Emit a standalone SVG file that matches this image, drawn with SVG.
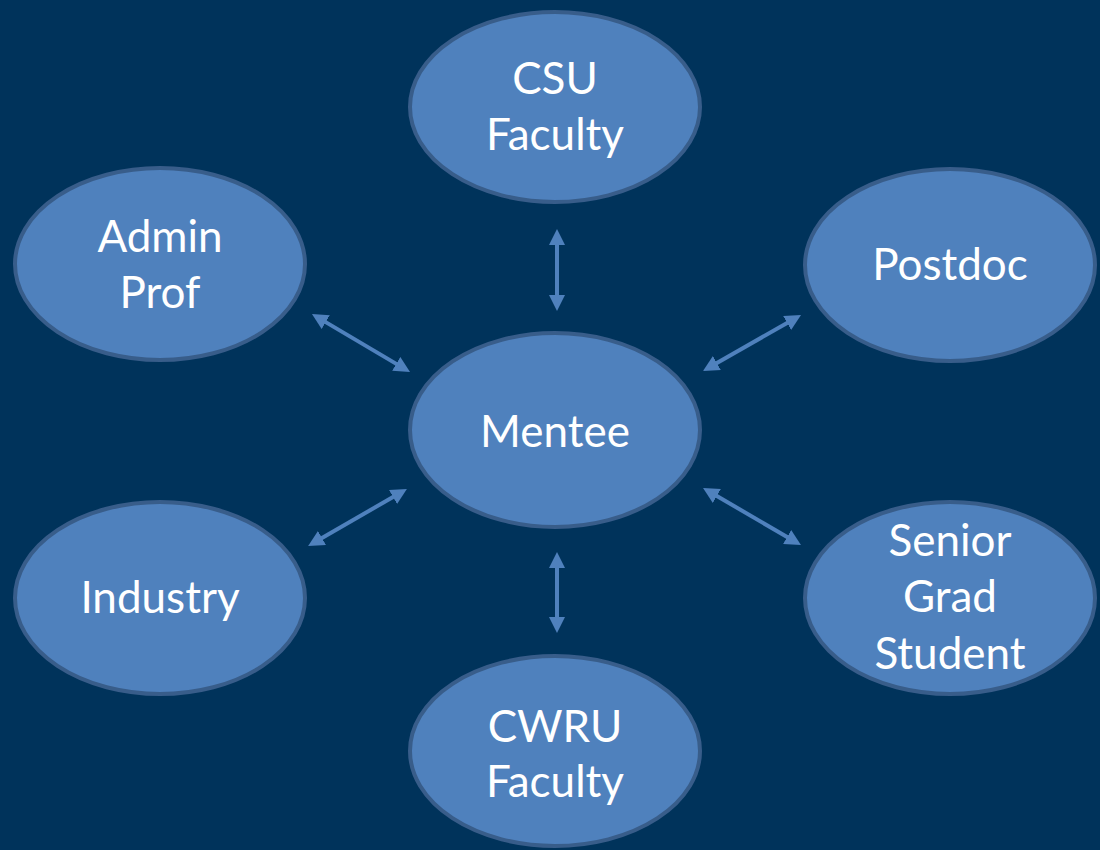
<svg xmlns="http://www.w3.org/2000/svg" width="1100" height="850" viewBox="0 0 1100 850">
  <style>
    .node ellipse { fill: #4F81BD; stroke: #385D8A; stroke-width: 4; }
    .node text { fill: #FFFFFF; font-family: Lato, "Open Sans", sans-serif; font-size: 44px; text-anchor: middle; }
    .link { stroke: #4F81BD; stroke-width: 4; fill: none; marker-start: url(#head); marker-end: url(#head); }
  </style>
  <defs>
    <marker id="head" markerUnits="userSpaceOnUse" markerWidth="16" markerHeight="16" refX="4" refY="8" orient="auto-start-reverse" viewBox="0 0 16 16">
      <path d="M0,0 L16,8 L0,16 Z" fill="#4F81BD"/>
    </marker>
  </defs>

  <rect x="0" y="0" width="1100" height="850" fill="#00335B"/>

  <!-- connectors: every outer role links both ways to the mentee -->
  <g id="connectors">
    <line class="link" x1="557" y1="241" x2="557" y2="299"/>
    <line class="link" x1="557" y1="564" x2="557" y2="621"/>
    <line class="link" x1="322.3" y1="320.1" x2="399.7" y2="365.9"/>
    <line class="link" x1="318.5" y1="540" x2="396.5" y2="495"/>
    <line class="link" x1="713.4" y1="365" x2="790.6" y2="321"/>
    <line class="link" x1="713.4" y1="494" x2="790.6" y2="539"/>
  </g>

  <g id="csu-faculty" class="node">
    <ellipse cx="555" cy="107" rx="145" ry="95"/>
    <text x="555" y="94">CSU</text>
    <text x="555" y="150">Faculty</text>
  </g>

  <g id="admin-prof" class="node">
    <ellipse cx="160" cy="264" rx="145" ry="96"/>
    <text x="160" y="252">Admin</text>
    <text x="160" y="308">Prof</text>
  </g>

  <g id="postdoc" class="node">
    <ellipse cx="950" cy="265" rx="145" ry="96"/>
    <text x="950" y="280">Postdoc</text>
  </g>

  <g id="mentee" class="node">
    <ellipse cx="555" cy="430" rx="145" ry="97"/>
    <text x="555" y="447">Mentee</text>
  </g>

  <g id="industry" class="node">
    <ellipse cx="160" cy="598" rx="145" ry="96"/>
    <text x="160" y="613">Industry</text>
  </g>

  <g id="senior-grad-student" class="node">
    <ellipse cx="950" cy="598" rx="145" ry="96"/>
    <text x="950" y="556">Senior</text>
    <text x="950" y="612">Grad</text>
    <text x="950" y="669">Student</text>
  </g>

  <g id="cwru-faculty" class="node">
    <ellipse cx="555" cy="751" rx="145" ry="95"/>
    <text x="555" y="742">CWRU</text>
    <text x="555" y="797">Faculty</text>
  </g>
</svg>
